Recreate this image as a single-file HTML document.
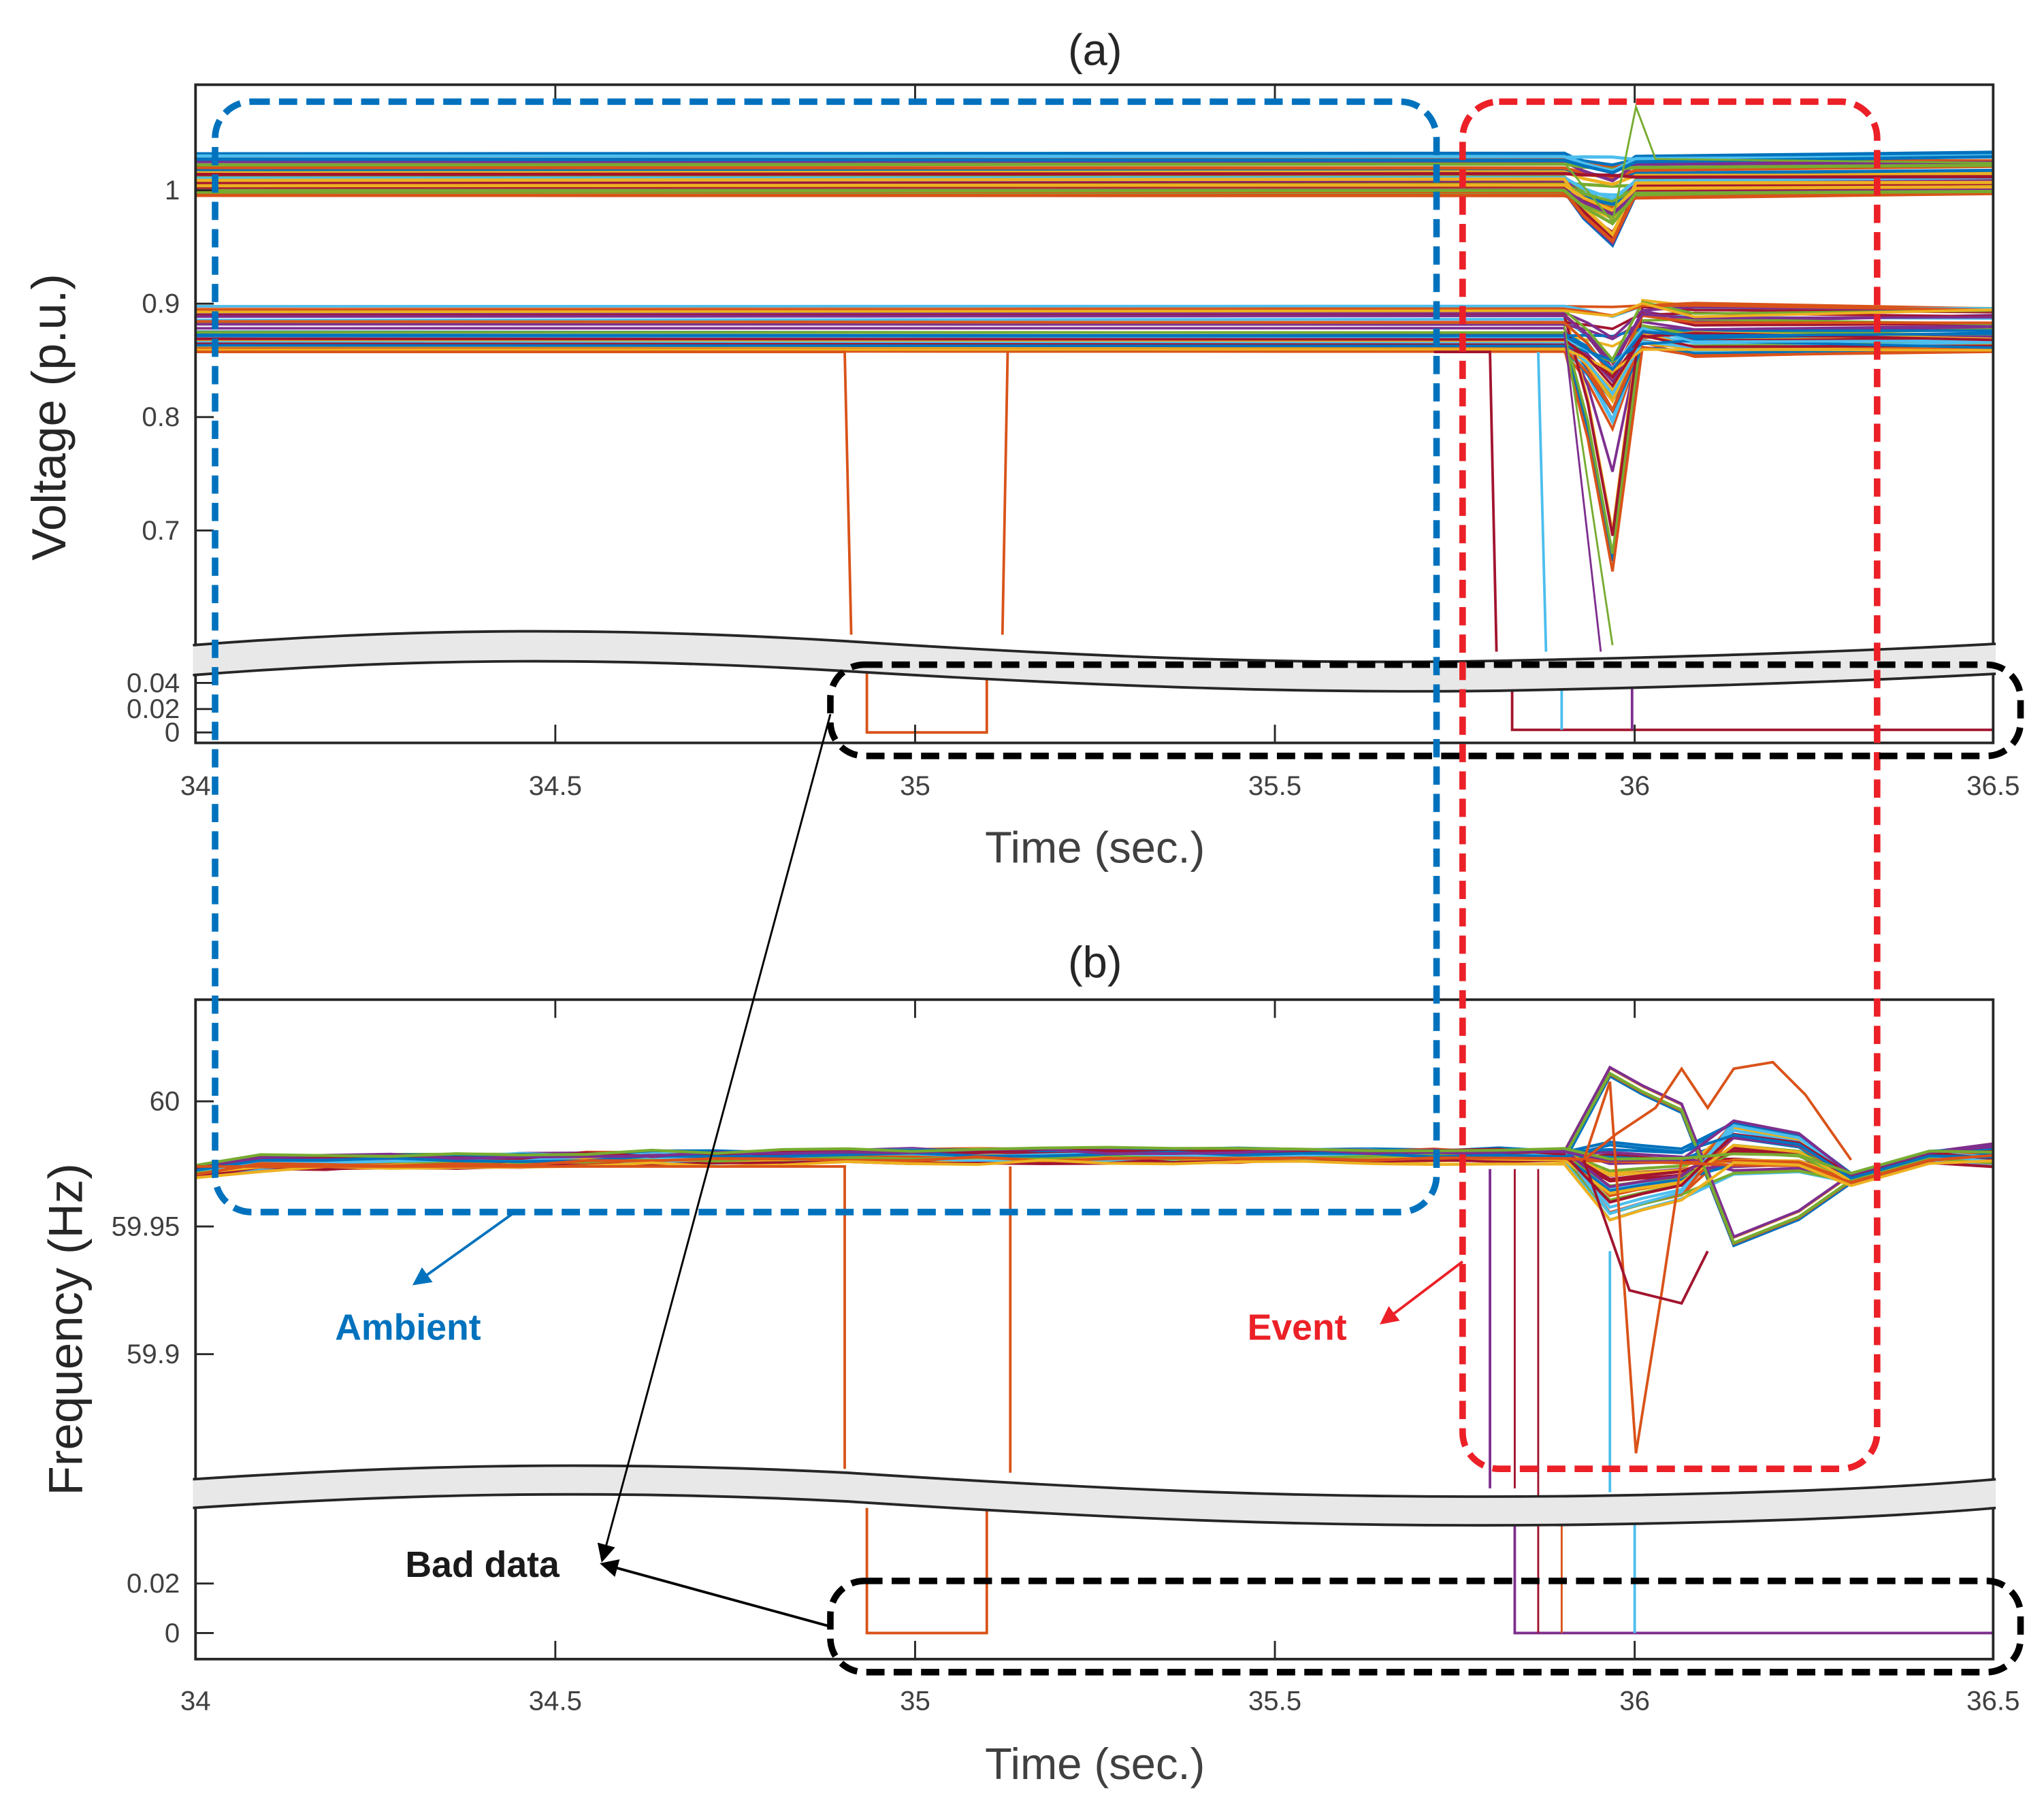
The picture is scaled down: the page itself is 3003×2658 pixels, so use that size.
<!DOCTYPE html>
<html><head><meta charset="utf-8"><style>html,body{margin:0;padding:0;background:#fff}svg{display:block}</style></head>
<body>
<svg id="s" width="3003" height="2658" viewBox="0 0 1568 1388" preserveAspectRatio="none" xmlns="http://www.w3.org/2000/svg" font-family="Liberation Sans, sans-serif">
<rect width="1568" height="1388" fill="#fff"/>
<g id="data"></g>
<g stroke="#262626" stroke-width="2" fill="none">
<rect x="150" y="65" width="1379" height="505"/>
<rect x="150" y="767" width="1379" height="506"/>
</g>
<path d="M148,495 C300,483 450,480 650,492 C850,505 1000,510 1150,507 C1300,504 1420,500 1531,494 L1531,517 C1420,523 1300,527 1150,530 C1000,532 850,527 650,515 C450,503 300,506 148,518 Z" fill="#e8e8e8" stroke="none"/>
<path d="M148,495 C300,483 450,480 650,492 C850,505 1000,510 1150,507 C1300,504 1420,500 1531,494" fill="none" stroke="#262626" stroke-width="2"/>
<path d="M148,518 C300,506 450,503 650,515 C850,527 1000,532 1150,530 C1300,527 1420,523 1531,517" fill="none" stroke="#262626" stroke-width="2"/>
<path d="M148,1135 C300,1125 450,1120 650,1130 C850,1143 1000,1150 1200,1148 C1350,1146 1450,1142 1531,1135 L1531,1157 C1450,1164 1350,1168 1200,1170 C1000,1172 850,1165 650,1152 C450,1142 300,1147 148,1157 Z" fill="#e8e8e8" stroke="none"/>
<path d="M148,1135 C300,1125 450,1120 650,1130 C850,1143 1000,1150 1200,1148 C1350,1146 1450,1142 1531,1135" fill="none" stroke="#262626" stroke-width="2"/>
<path d="M148,1157 C300,1147 450,1142 650,1152 C850,1165 1000,1172 1200,1170 C1350,1168 1450,1164 1531,1157" fill="none" stroke="#262626" stroke-width="2"/>
<g id="ticks" stroke="#262626" stroke-width="1.5"></g>
<g fill="#404040" font-size="21" text-anchor="end">
<text x="138" y="153">1</text><text x="138" y="240">0.9</text><text x="138" y="327">0.8</text><text x="138" y="414">0.7</text>
<text x="138" y="531">0.04</text><text x="138" y="551">0.02</text><text x="138" y="569">0</text>
<text x="138" y="852">60</text><text x="138" y="948">59.95</text><text x="138" y="1046">59.9</text>
<text x="138" y="1222">0.02</text><text x="138" y="1260">0</text>
</g>
<g fill="#404040" font-size="21" text-anchor="middle">
<text x="150" y="610">34</text><text x="426" y="610">34.5</text><text x="702" y="610">35</text><text x="978" y="610">35.5</text><text x="1254" y="610">36</text><text x="1529" y="610">36.5</text>
<text x="150" y="1312">34</text><text x="426" y="1312">34.5</text><text x="702" y="1312">35</text><text x="978" y="1312">35.5</text><text x="1254" y="1312">36</text><text x="1529" y="1312">36.5</text>
</g>
<g fill="#262626" font-size="34" text-anchor="middle">
<text x="840" y="50">(a)</text><text x="840" y="750">(b)</text>
<text x="840" y="662" fill="#404040">Time (sec.)</text><text x="840" y="1365" fill="#404040">Time (sec.)</text>
<text transform="translate(50,320) rotate(-90)" font-size="37">Voltage (p.u.)</text>
<text transform="translate(63,1020) rotate(-90)" font-size="37">Frequency (Hz)</text>
</g>
<g fill="none" stroke-width="5" stroke-dasharray="14,7">
<rect x="165" y="78" width="937" height="852" rx="28" stroke="#0072BD"/>
<rect x="1122" y="78" width="318" height="1049" rx="28" stroke="#EC2027"/>
<rect x="637" y="510" width="913" height="70" rx="26" stroke="#000"/>
<rect x="637" y="1213" width="913" height="70" rx="26" stroke="#000"/>
</g>
<defs>
<marker id="mb" markerWidth="14" markerHeight="14" refX="12" refY="7" orient="auto" markerUnits="userSpaceOnUse"><path d="M0,0 L14,7 L0,14 Z" fill="#0072BD"/></marker>
<marker id="mr" markerWidth="14" markerHeight="14" refX="12" refY="7" orient="auto" markerUnits="userSpaceOnUse"><path d="M0,0 L14,7 L0,14 Z" fill="#EC2027"/></marker>
<marker id="mk2" markerWidth="14" markerHeight="14" refX="12" refY="7" orient="auto" markerUnits="userSpaceOnUse"><path d="M0,0 L14,7 L0,14 Z" fill="#000"/></marker>
</defs>
<line x1="637" y1="548" x2="462" y2="1197" stroke="#000" stroke-width="1.5" marker-end="url(#mk2)"/>
<line x1="637" y1="1248" x2="462" y2="1200" stroke="#000" stroke-width="2" marker-end="url(#mk2)"/>
<line x1="395" y1="930" x2="318" y2="985" stroke="#0072BD" stroke-width="2" marker-end="url(#mb)"/>
<line x1="1122" y1="968" x2="1060" y2="1015" stroke="#EC2027" stroke-width="2" marker-end="url(#mr)"/>
<g font-weight="bold" font-size="28" text-anchor="middle">
<text x="313" y="1028" fill="#0072BD">Ambient</text>
<text x="995" y="1028" fill="#EC2027">Event</text>
<text x="370" y="1210" fill="#1a1a1a">Bad data</text>
</g>
</svg>
<script>
(function(){
var ns="http://www.w3.org/2000/svg",g=document.getElementById('data'),t=document.getElementById('ticks');
var C=["#0072BD","#D95319","#EDB120","#7E2F8E","#77AC30","#4DBEEE","#A2142F"];
var seed=7;function r(){seed=(seed*16807)%2147483647;return seed/2147483647;}
function P(d,c,w){var p=document.createElementNS(ns,'path');p.setAttribute('d',d);p.setAttribute('stroke',c);p.setAttribute('stroke-width',w||2);p.setAttribute('fill','none');g.appendChild(p);}
function L(x1,y1,x2,y2){var l=document.createElementNS(ns,'line');l.setAttribute('x1',x1);l.setAttribute('y1',y1);l.setAttribute('x2',x2);l.setAttribute('y2',y2);t.appendChild(l);}
for(var i=0;i<40;i++){var y=118+r()*32,c=C[i%7];var dip=r()*(y>135?45:15);
var d="M150,"+y.toFixed(1)+" L1200,"+(y+r()*2-1).toFixed(1)+" L1215,"+(y+dip*0.5).toFixed(1)+" L1237,"+(y+dip).toFixed(1)+" L1255,"+(y+2).toFixed(1)+" L1529,"+(y+r()*4-2).toFixed(1);P(d,c,2.5);}
P("M1200,125 L1237,170 L1255,82 L1270,122 L1529,125",C[4],1.5);
for(var i=0;i<45;i++){var y=235+r()*35,c=C[i%7];var dip=r()*60;if(i%9==0)dip=170;if(i==3)dip=110;
var d="M150,"+y.toFixed(1)+" L1200,"+(y+r()*2-1).toFixed(1)+" L1218,"+(y+dip*0.4).toFixed(1)+" L1237,"+(y+dip).toFixed(1)+" L1260,"+(y-r()*8).toFixed(1)+" L1300,"+(y+r()*10-5).toFixed(1)+" L1529,"+(y+r()*4-2).toFixed(1);P(d,c,2);}
P("M1200,250 L1237,495",C[4],1.5);P("M1200,255 L1228,500",C[3],1.5);
P("M150,270 L648,270 L653,487 M665,510 L665,562 L757,562 L757,510 M769,487 L773,270",C[1],2);
P("M1100,270 L1143,270 L1148,500 M1160,527 L1160,560 L1529,560",C[6],2);
P("M1180,270 L1186,500 M1198,527 L1198,560",C[5],2);
P("M1252,527 L1252,560",C[3],2);
for(var i=0;i<40;i++){var y=893+r()*10-5,c=C[i%7];var pts="M150,"+(y+6);
for(var x=200;x<=1215;x+=50)pts+=" L"+x+","+(y-(x<700?(x-150)/550*6:6)+r()*4-2).toFixed(1);
var a=r()*60-15,b=r()*60-10;if(i%8==0){a=-70;b=-100;}
pts+=" L1235,"+(y+a).toFixed(1)+" L1260,"+(y+a*0.8).toFixed(1)+" L1290,"+(y+a*0.6).toFixed(1)+" L1330,"+(y-b*0.6).toFixed(1)+" L1380,"+(y-b*0.4).toFixed(1)+" L1420,"+(y+12).toFixed(1)+" L1480,"+(y-5).toFixed(1)+" L1529,"+(y-12+r()*12).toFixed(1);
P(pts,c,2.2);}
P("M1215,890 L1235,830 L1255,1115 L1275,990 L1290,890",C[1],2);
P("M1215,890 L1240,870 L1270,850 L1290,820 L1310,850 L1330,820 L1360,815 L1385,840 L1420,890",C[1],2);
P("M1215,890 L1250,990 L1290,1000 L1310,960",C[6],2);
P("M150,895 L648,895 L648,1127 M665,1157 L665,1253 L757,1253 L757,1157 M775,1130 L775,895",C[1],2);
P("M1143,897 L1143,1142 M1162,1170 L1162,1253 L1529,1253",C[3],2);
P("M1162,897 L1162,1142",C[6],1.5);P("M1180,897 L1180,1253",C[6],1.5);P("M1198,1170 L1198,1253",C[1],1.5);
P("M1235,960 L1235,1145 M1254,1170 L1254,1253",C[5],2);
[150,426,702,978,1254,1529].forEach(function(x){L(x,65,x,79);L(x,570,x,556);L(x,767,x,781);L(x,1273,x,1259);});
[146,233,320,407,524,544,562].forEach(function(y){L(150,y,164,y);});
[845,941,1039,1215,1253].forEach(function(y){L(150,y,164,y);});
})();
</script>
</body></html>
